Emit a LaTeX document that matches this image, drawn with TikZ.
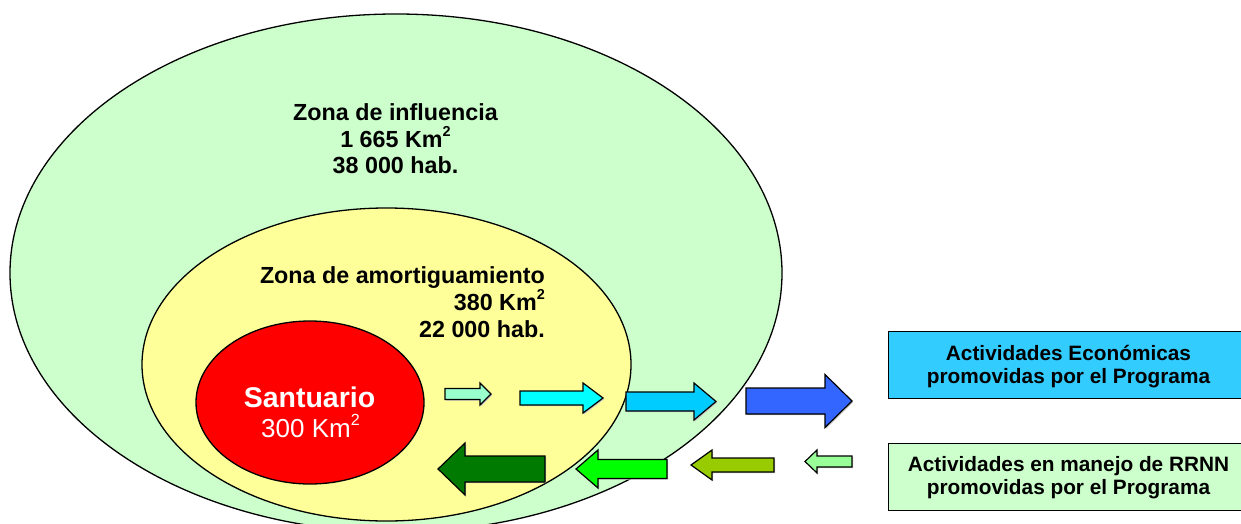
\documentclass[tikz,border=0pt]{standalone}
\usepackage{fontspec}
\usepackage{graphicx}
\setmainfont{Liberation Sans}
\usetikzlibrary{shapes.geometric}
\definecolor{inflgreen}{HTML}{CCFFCC}
\definecolor{amoryellow}{HTML}{FFFF99}
\definecolor{santred}{HTML}{FF0000}
\definecolor{boxblue}{HTML}{33CCFF}
\definecolor{boxgreen}{HTML}{CCFFCC}
\definecolor{arA}{HTML}{99FFCC}
\definecolor{arB}{HTML}{00FFFF}
\definecolor{arC}{HTML}{00CCFF}
\definecolor{arD}{HTML}{3366FF}
\definecolor{arE}{HTML}{007A00}
\definecolor{arF}{HTML}{00FF00}
\definecolor{arG}{HTML}{99CC00}
\definecolor{arH}{HTML}{99FF99}
\newcommand\sqtwo{\raisebox{0.45em}{\scalebox{0.62}{2}}}
% block arrow: tail x, head-base x, tip x, centre y, shaft half, head half, colour
\newcommand\blockarr[7]{%
  \fill[shadowstyle, shift={(1.2,1.2)}] (#1,#4-#5) -- (#2,#4-#5) -- (#2,#4-#6) -- (#3,#4) -- (#2,#4+#6) -- (#2,#4+#5) -- (#1,#4+#5) -- cycle;
  \filldraw[arrowstyle, fill=#7] (#1,#4-#5) -- (#2,#4-#5) -- (#2,#4-#6) -- (#3,#4) -- (#2,#4+#6) -- (#2,#4+#5) -- (#1,#4+#5) -- cycle;}
\begin{document}
\begin{tikzpicture}[x=1pt,y=-1pt,
  zone/.style={ellipse, draw=black, line width=1.3pt, inner sep=0pt},
  arrowstyle/.style={draw=black, line width=1.2pt, line join=miter},
  shadowstyle/.style={fill=black!22},
  infobox/.style={rectangle, draw=black, line width=1.2pt, inner sep=0pt, anchor=north west, minimum width=362pt, minimum height=67pt},
  bigl/.style={font=\fontsize{23.3}{26}\selectfont\bfseries, inner sep=0pt},
  boxl/.style={font=\fontsize{20.8}{24}\selectfont\bfseries, inner sep=0pt, anchor=base}]
\useasboundingbox (0,0) rectangle (1241,524);
\clip (0,0) rectangle (1241,524);
\fill[white] (0,0) rectangle (1241,524);

% zones
\node[zone, fill=inflgreen, minimum width=772pt, minimum height=518pt] (influencia) at (396,273) {};
\node[zone, fill=amoryellow, minimum width=489pt, minimum height=313pt] (amort) at (386.5,364.5) {};
\node[zone, fill=santred, minimum width=228pt, minimum height=163pt] (sant) at (310,402.5) {};

% zone labels
\node[bigl, anchor=base] (infA) at (395.5,121) {Zona de influencia};
\node[bigl, anchor=base] (infB) at (395.5,147) {1 665 Km\sqtwo};
\node[bigl, anchor=base] (infC) at (395.5,173) {38 000 hab.};
\node[bigl, anchor=base east] (amA) at (545,283) {Zona de amortiguamiento};
\node[bigl, anchor=base east] (amB) at (545,310) {380 Km\sqtwo};
\node[bigl, anchor=base east] (amC) at (545,337) {22 000 hab.};
\node[font=\fontsize{28.5}{30}\selectfont\bfseries, text=white, inner sep=0pt, anchor=base] (saA) at (309.5,407) {Santuario};
\node[font=\fontsize{26}{28}\selectfont, text=white, inner sep=0pt, anchor=base] (saB) at (310.5,437) {300 Km\sqtwo};

% arrows outward
\blockarr{445}{480}{491}{394}{5.5}{11}{arA}
\blockarr{520}{583}{603}{398}{7}{15}{arB}
\blockarr{626}{694}{716}{401.5}{9.5}{18.5}{arC}
\blockarr{746}{825}{852}{401}{13}{26.5}{arD}
% arrows inward
\blockarr{545}{465}{438}{469}{13}{26}{arE}
\blockarr{667}{598}{576}{469}{9.5}{19}{arF}
\blockarr{774}{712}{691}{465}{7}{15}{arG}
\blockarr{852}{817}{805}{461.5}{5.5}{11.5}{arH}

% boxes
\fill[shadowstyle] (889.2,332.2) rectangle (1252,399.2);
\node[infobox, fill=boxblue] (econ) at (888,331) {};
\fill[shadowstyle] (889.2,444.2) rectangle (1252,511.2);
\node[infobox, fill=boxgreen] (rrnn) at (888,443) {};
\node[boxl] (ecA) at (1068.5,360.5) {Actividades Económicas};
\node[boxl] (ecB) at (1068.5,383) {promovidas por el Programa};
\node[boxl] (rrA) at (1068.5,471.5) {Actividades en manejo de RRNN};
\node[boxl] (rrB) at (1068.5,494.5) {promovidas por el Programa};
\end{tikzpicture}
\end{document}
